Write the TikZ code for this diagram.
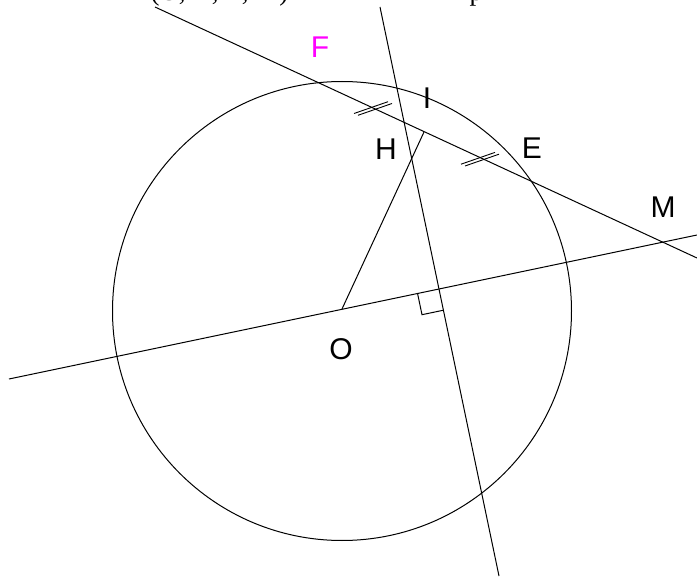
\documentclass[tikz,border=0pt]{standalone}
\usepackage{fontspec}
\setmainfont{Liberation Sans}
\newfontfamily\serifface{Liberation Serif}
\usetikzlibrary{calc}
\begin{document}
\begin{tikzpicture}[x=1pt,y=-1pt,line width=1pt,
  lbl/.style={font=\fontsize{30}{32}\selectfont,inner sep=0pt},
  toptext/.style={font=\serifface\fontsize{27}{30}\selectfont,inner sep=0pt,anchor=base west},
  geo/.style={line width=1pt,black},
  tick/.style={line width=0.9pt,black}]
\useasboundingbox (0,0) rectangle (697,578);
\clip (0,0) rectangle (697,578);
% heading text, cut by the top edge as in the reference
\node[toptext] (head) at (150,1) {(O, H, E, M)};
\node[toptext] (headp) at (469,1) {p};
% coordinates
\coordinate (L1) at (155,7);
\coordinate (L2) at (697,258);
\coordinate (K1) at (9,379);
\coordinate (K2) at (697,235);
\coordinate (P1) at (380,7);
\coordinate (P2) at (499,576);
\coordinate (O) at (342,309);
\coordinate (H) at (424,132);
\coordinate (C) at (342,311);
\coordinate (R1) at (417.5,293.2);
\coordinate (R2) at (422,314.7);
\coordinate (R3) at (443.5,310.2);
% circle
\draw[geo] (C) circle[radius=229.5];
% lines
\draw[geo] (L1) -- (L2);
\draw[geo] (K1) -- (K2);
\draw[geo] (P1) -- (P2);
\draw[geo] (O) -- (H);
% right angle
\draw[geo] (R1) -- (R2) -- (R3);
% equal-length ticks
\coordinate (Ta1) at (354,113.5); \coordinate (Ta2) at (388,101.7);
\coordinate (Tb1) at (358,115.3); \coordinate (Tb2) at (392,103.5);
\coordinate (Tc1) at (461,164.2); \coordinate (Tc2) at (495,152.4);
\coordinate (Td1) at (465,166.0); \coordinate (Td2) at (499,154.2);
\draw[tick] (Ta1) -- (Ta2);
\draw[tick] (Tb1) -- (Tb2);
\draw[tick] (Tc1) -- (Tc2);
\draw[tick] (Td1) -- (Td2);
% labels
\node[lbl,text={rgb,255:red,255;green,0;blue,255}] (F) at (320,47) {F};
\node[lbl] (I) at (427,98) {I};
\node[lbl] (Hl) at (386,149) {H};
\node[lbl] (E) at (532,148) {E};
\node[lbl] (M) at (663,207) {M};
\node[lbl] (Ol) at (341,349) {O};
\end{tikzpicture}
\end{document}
